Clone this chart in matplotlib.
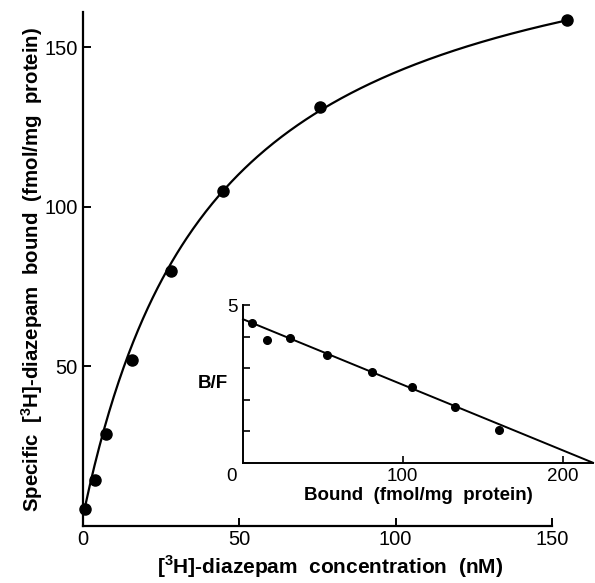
import matplotlib.pyplot as plt
import numpy as np

plt.rcParams['font.family'] = ['Liberation Sans', 'DejaVu Sans']
plt.rcParams['mathtext.fontset'] = 'custom'
plt.rcParams['mathtext.rm'] = 'Liberation Sans'
plt.rcParams['mathtext.bf'] = 'Liberation Sans:bold'

# saturation data: free concentration (nM) vs specific bound (fmol/mg protein)
conc = [0.6, 3.8, 7.3, 15.6, 28.3, 44.7, 75.7, 154.9]
bound = [5.2, 14.3, 28.9, 51.9, 79.9, 104.9, 131.3, 158.5]
# fitted hyperbola drawn through them
Bmax = 197.7
Kd = 42.0
offset = 3.0

# Scatchard inset: bound vs B/F
sc_bound = [5.8, 14.8, 29.4, 52.7, 80.8, 106, 132.7, 160.2]
sc_bf = [4.44, 3.90, 3.97, 3.41, 2.88, 2.39, 1.78, 1.04]
sc_intercept = 4.55
sc_bmax = 219

fig = plt.figure(figsize=(5.95, 5.83), dpi=100)
ax = fig.add_axes([0.1395, 0.0978, 0.8303, 0.881])

xc = np.linspace(conc[0], conc[-1], 300)
ax.plot(xc, offset + Bmax*xc/(Kd + xc), color='black', lw=1.6, clip_on=False)
ax.plot(conc, bound, 'o', color='black', ms=8, clip_on=False)

ax.set_xlim(0, 158)
ax.set_ylim(0, 161)
ax.set_xticks([0, 50, 100, 150])
ax.set_yticks([50, 100, 150])
ax.spines['top'].set_visible(False)
ax.spines['right'].set_visible(False)
ax.spines['bottom'].set_bounds(0, 150)
for s in ['left', 'bottom']:
    ax.spines[s].set_linewidth(1.6)
ax.tick_params(direction='in', length=6, width=1.4, labelsize=14.5, pad=4)
ax.tick_params(axis='x', pad=3)
ax.set_xlabel(r'[$^\mathbf{3}$H]-diazepam  concentration  (nM)', fontsize=15,
              fontweight='bold', labelpad=3)
ax.set_ylabel(r'Specific  [$^\mathbf{3}$H]-diazepam  bound  (fmol/mg  protein)',
              fontsize=14.7, fontweight='bold', labelpad=-1)

ins = fig.add_axes([0.4084, 0.2063, 0.5882, 0.2705])
ins.plot([0, sc_bmax], [sc_intercept, 0], color='black', lw=1.4, clip_on=False)
ins.plot(sc_bound, sc_bf, 'o', color='black', ms=5.5, clip_on=False)
ins.set_xlim(0, sc_bmax)
ins.set_ylim(0, 5)
ins.set_xticks([100, 200])
ins.set_yticks([0, 1, 2, 3, 4, 5])
ins.set_yticklabels(['', '', '', '', '', '5'])
ins.spines['top'].set_visible(False)
ins.spines['right'].set_visible(False)
for s in ['left', 'bottom']:
    ins.spines[s].set_linewidth(1.4)
ins.tick_params(direction='in', length=5, width=1.2, labelsize=13.5, pad=4)
ins.annotate('0', (0, 0), xytext=(-8, -10), textcoords='offset points',
             ha='center', va='center', fontsize=13.5)
ins.set_xlabel('Bound  (fmol/mg  protein)', fontsize=13.5, fontweight='bold', labelpad=1)
ins.set_ylabel('B/F', fontsize=13.5, fontweight='bold', rotation=0, labelpad=10, va='center')

fig.savefig('out.png', dpi=100)
